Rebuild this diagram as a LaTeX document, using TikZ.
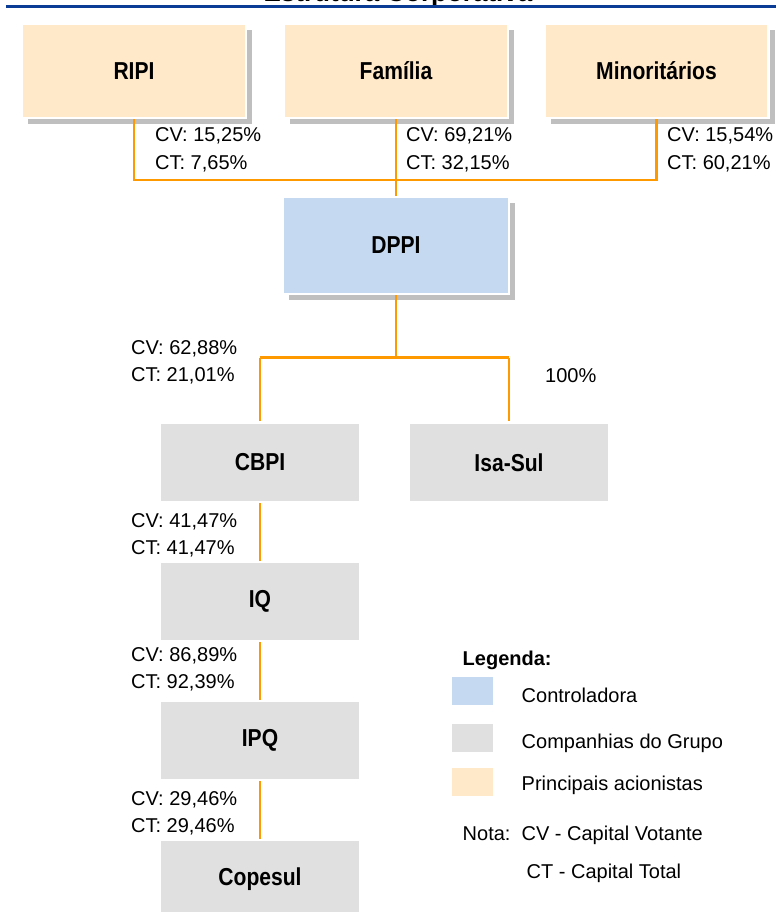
\documentclass[tikz,border=0pt]{standalone}
\usepackage{fontspec}
\setmainfont{Liberation Sans}
\newfontfamily\narrowbf[FakeStretch=0.86]{Liberation Sans}
\usetikzlibrary{shadows}
\definecolor{peach}{RGB}{255,233,200}
\definecolor{ctrlblue}{RGB}{197,217,241}
\definecolor{grpgray}{RGB}{224,224,224}
\definecolor{shadowgray}{RGB}{191,191,191}
\definecolor{connorange}{RGB}{255,153,0}
\definecolor{titleblue}{RGB}{10,60,150}
\begin{document}
\begin{tikzpicture}[x=1pt,y=-1pt,
  boxbase/.style={inner sep=0pt, font=\narrowbf\bfseries\fontsize{24.5}{28}\selectfont},
  shad/.style={drop shadow={shadow xshift=6pt,shadow yshift=-6pt,fill=shadowgray,opacity=1}},
  topbox/.style={boxbase, shad, fill=peach, draw=white, line width=2.5pt, minimum width=224pt, minimum height=94pt},
  ctrlbox/.style={boxbase, shad, fill=ctrlblue, draw=white, line width=2.5pt, minimum width=226pt, minimum height=97pt},
  grpbox/.style={boxbase, fill=grpgray, minimum width=198pt, minimum height=77pt},
  conn/.style={draw=connorange, line width=2.8pt},
  lbl/.style={anchor=base west, inner sep=0pt, font=\fontsize{20}{24}\selectfont},
  legsq/.style={fill=#1, minimum width=41pt, minimum height=28pt, inner sep=0pt},
]
\useasboundingbox (0,0) rectangle (776,912);

% title (cropped) and rule
\node[anchor=base, inner sep=0pt, font=\bfseries\fontsize{26}{30}\selectfont] (title) at (398,2) {Estrutura Corporativa};
\draw[titleblue, line width=2.2pt] (6,6.5) -- (776,6.5);

% shareholders
\node[topbox] (ripi)  at (134,71)   {RIPI};
\node[topbox] (fam)   at (396,71)   {Família};
\node[topbox] (minor) at (656.5,71) {Minoritários};

% controller
\node[ctrlbox] (dppi) at (396,245.5) {DPPI};

% group companies
\node[grpbox] (cbpi)    at (260,462.5) {CBPI};
\node[grpbox] (isasul)  at (509,462.5) {Isa-Sul};
\node[grpbox] (iq)      at (260,601.5) {IQ};
\node[grpbox] (ipq)     at (260,740.5) {IPQ};
\node[grpbox] (copesul) at (260,879.5) {Copesul};

% connectors
\coordinate (j1) at (396,180);
\coordinate (j2) at (396,357.5);
\draw[conn] (ripi.south) -- (ripi.south |- j1) -- (minor.south |- j1) -- (minor.south);
\draw[conn] (fam.south) -- (dppi.north);
\draw[conn] (dppi.south) -- (j2);
\draw[conn] (cbpi.north |- j2) -- (isasul.north |- j2);
\draw[conn, shorten <=3pt] (cbpi.north) -- (cbpi.north |- j2);
\draw[conn, shorten <=3pt] (isasul.north) -- (isasul.north |- j2);
\draw[conn, shorten <=2pt, shorten >=2pt] (cbpi.south) -- (iq.north);
\draw[conn, shorten <=2pt, shorten >=2pt] (iq.south) -- (ipq.north);
\draw[conn, shorten <=2pt, shorten >=2pt] (ipq.south) -- (copesul.north);

% percentage labels
\node[lbl] (l1a) at (155,142) {CV: 15,25\%};
\node[lbl] (l1b) at (155,170) {CT: 7,65\%};
\node[lbl] (l2a) at (406,142) {CV: 69,21\%};
\node[lbl] (l2b) at (406,170) {CT: 32,15\%};
\node[lbl] (l3a) at (667,142) {CV: 15,54\%};
\node[lbl] (l3b) at (667,170) {CT: 60,21\%};
\node[lbl] (l4a) at (131,354) {CV: 62,88\%};
\node[lbl] (l4b) at (131,381) {CT: 21,01\%};
\node[lbl] (l5)  at (545,382) {100\%};
\node[lbl] (l6a) at (131,527) {CV: 41,47\%};
\node[lbl] (l6b) at (131,554) {CT: 41,47\%};
\node[lbl] (l7a) at (131,661) {CV: 86,89\%};
\node[lbl] (l7b) at (131,688) {CT: 92,39\%};
\node[lbl] (l8a) at (131,805) {CV: 29,46\%};
\node[lbl] (l8b) at (131,832) {CT: 29,46\%};

% legend
\node[lbl, font=\bfseries\fontsize{20}{24}\selectfont] (leg) at (462.5,665) {Legenda:};
\node[legsq=ctrlblue] (sq1) at (472,691) {};
\node[legsq=grpgray]  (sq2) at (472,737.5) {};
\node[legsq=peach]    (sq3) at (472,782) {};
\node[lbl] (t1) at (521.5,702) {Controladora};
\node[lbl] (t2) at (521.5,748) {Companhias do Grupo};
\node[lbl] (t3) at (521.5,790) {Principais acionistas};
\node[lbl] (n1) at (462.5,840) {Nota:\ \ CV - Capital Votante};
\node[lbl] (n2) at (526.5,878) {CT - Capital Total};
\end{tikzpicture}
\end{document}
